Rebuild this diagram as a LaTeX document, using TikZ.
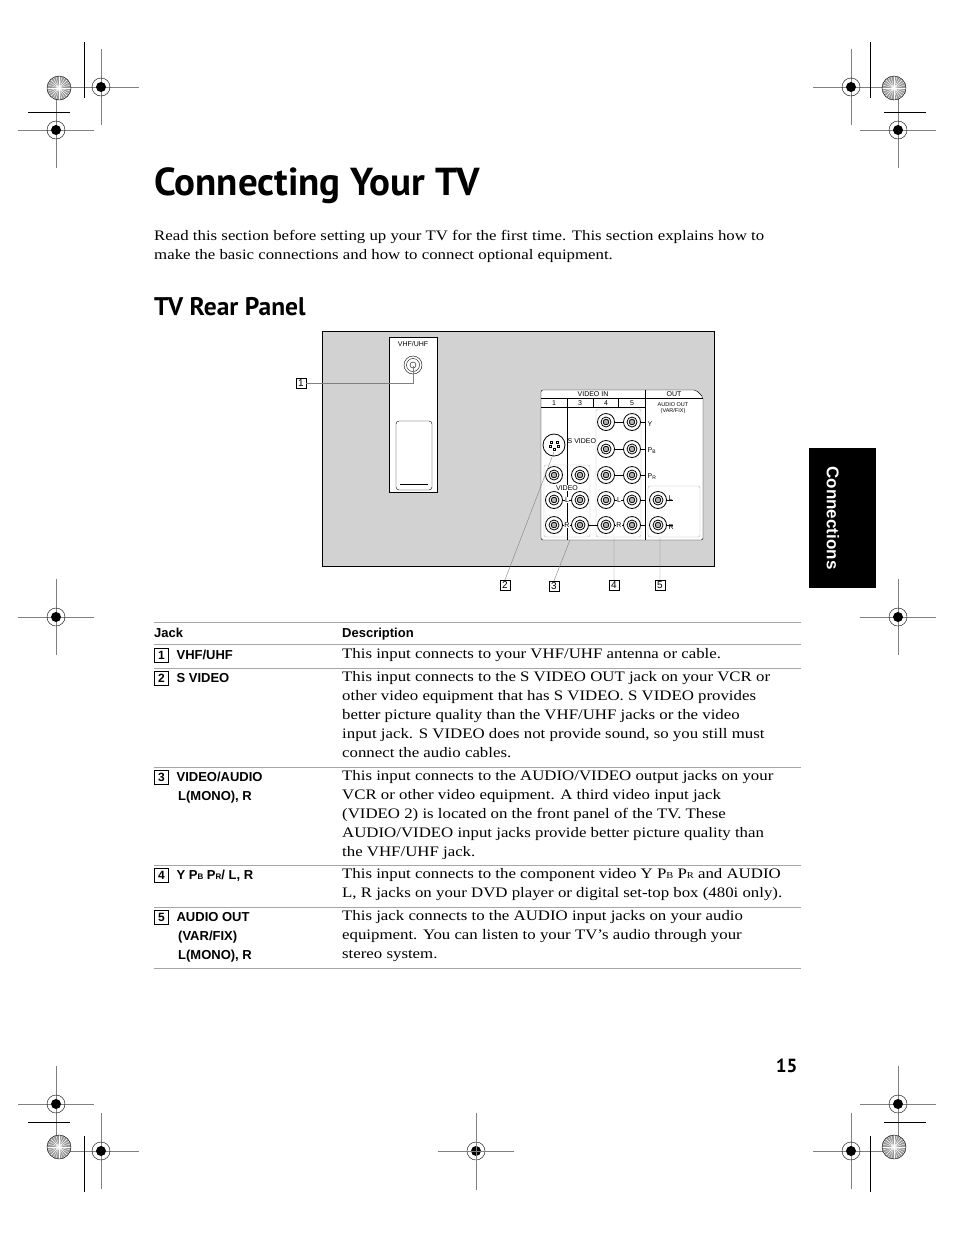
\documentclass[tikz,border=0pt]{standalone}
\usepackage{fontspec}
\setmainfont[FakeStretch=1.16]{Liberation Serif}
\setsansfont{Liberation Sans}
\newfontfamily\titlefont{PT Sans}
\usetikzlibrary{positioning,calc}
\tikzset{
  jack/.style={draw,circle,thick,minimum size=17pt,inner sep=0pt,fill=white,
    path picture={\draw (path picture bounding box.center) circle (5pt);
      \draw[fill=gray!60] (path picture bounding box.center) circle (2.8pt);}},
  callout/.style={draw,inner sep=1.2pt,minimum size=10pt,font=\sffamily\fontsize{10}{10}\selectfont},
  tiny/.style={font=\sffamily\fontsize{7}{7}\selectfont,inner sep=0.5pt},
  body/.style={anchor=north west,align=left,inner sep=0pt,font=\fontsize{14.5}{19}\selectfont},
  jackname/.style={anchor=north west,align=left,inner sep=0pt,font=\sffamily\bfseries\fontsize{13}{19}\selectfont},
  rule/.style={draw=gray!70,line width=0.6pt}
}
\newcommand{\regmark}[2]{%
  \draw[gray,thin] (#1-38,#2) -- (#1+38,#2) (#1,#2-38) -- (#1,#2+38);
  \draw (#1,#2) circle (9);
  \fill (#1,#2) circle (5);}
\newcommand{\starmark}[2]{%
  \fill[gray!80] (#1,#2) circle (12);
  \foreach \a in {0,15,...,345} \draw[white,thin] (#1,#2) -- ++(\a:12);
  \draw (#1,#2) circle (12);}
\newcommand{\num}[1]{\tikz[baseline=(n.base)]\node[callout,font=\sffamily\fontsize{12}{12}\selectfont,minimum size=14pt] (n) {#1};\hspace{8pt}}
\begin{document}
\begin{tikzpicture}[x=1pt,y=-1pt]
\useasboundingbox (0,0) rectangle (954,1235);
% crop marks
\regmark{101}{87}\regmark{56}{130}\regmark{851}{87}\regmark{898}{130}
\regmark{56}{617}\regmark{898}{617}\regmark{56}{1104}\regmark{898}{1104}
\regmark{101}{1151}\regmark{476}{1151}\regmark{851}{1151}
\starmark{59}{88}\starmark{894}{88}\starmark{59}{1147}\starmark{894}{1147}
\draw[thick] (84,42) -- (84,98) (28,112) -- (70,112);
\draw[thick] (870,42) -- (870,98) (884,112) -- (926,112);
\draw[thick] (84,1136) -- (84,1192) (28,1122) -- (70,1122);
\draw[thick] (870,1136) -- (870,1192) (884,1122) -- (926,1122);
\draw[gray,thin] (476,1113) -- (476,1190) (438,1151) -- (514,1151);
% headings
\node[anchor=base west,inner sep=0pt,font=\titlefont\bfseries\fontsize{39}{39}\selectfont] (title) at (154,195) {Connecting Your TV};
\node[body] (intro) at (154,230) {Read this section before setting up your TV for the first time. This section explains how to\\make the basic connections and how to connect optional equipment.};
\node[anchor=base west,inner sep=0pt,font=\titlefont\bfseries\fontsize{25.5}{26}\selectfont] (sub) at (154,315) {TV Rear Panel};
% side tab
\fill (809,448) rectangle (876,588);
\node[rotate=-90,white,font=\sffamily\bfseries\fontsize{17}{17}\selectfont] (tab) at (833,518) {Connections};
\node[anchor=base east,font=\titlefont\bfseries\fontsize{19}{19}\selectfont] (page) at (801,1072) {15};
% panel
\draw[fill=gray!35] (322,331) rectangle (714,566);
\draw[fill=white] (389,337) rectangle (437,492);
\node[tiny] (vhflbl) at (413,344) {VHF/UHF};
\draw[fill=white] (413,365) circle (9);
\draw (413,365) circle (6.5) (413,365) circle (3);
\coordinate (vhf) at (413,366);
\draw[rounded corners=3] (396,421) rectangle (432,490);
\draw (400,484) -- (428,484);
\node[callout] (c1) at (301,383) {1};
\draw[gray] (c1.east) -- (vhf |- c1.east) -- (vhf);
% jack module
\draw[fill=white,rounded corners=2] (541,540) -- (541,390) -- (696,390) -- (703,397) -- (703,540) -- cycle;
\draw (541,398) -- (703,398) (541,407) -- (645,407);
\draw (567,398) -- (567,540) (593,398) -- (593,407) (618,398) -- (618,407) (645,390) -- (645,540);
\node[tiny] (vin) at (593,394) {VIDEO IN};
\node[tiny] (vout) at (674,394) {OUT};
\node[tiny] at (554,403) {1};\node[tiny] at (580,403) {3};
\node[tiny] at (606,403) {4};\node[tiny] at (632,403) {5};
\node[tiny,align=center,font=\sffamily\fontsize{5.5}{6}\selectfont] (aout) at (673,408) {AUDIO OUT\\(VAR/FIX)};
\draw[gray!60,rounded corners=2] (544,465) rectangle (590,537) (596,409) rectangle (641,537) (648,486) rectangle (700,537);
\foreach \y/\r in {422/y,449/pb,475/pr,500/l,525/r}{
  \node[jack] (j4\r) at (606,\y) {};
  \node[jack] (j5\r) at (632,\y) {};
  \draw[thick] (j4\r) -- (j5\r) (j5\r.east) -- ++(5,0);}
\foreach \y/\r in {475/v,500/l,525/r}{
  \node[jack] (j1\r) at (554,\y) {};
  \node[jack] (j3\r) at (580,\y) {};}
\node[jack] (jol) at (658,500) {};
\node[jack] (jor) at (658,525) {};
\draw[thick] (j1l) -- (j3l) (j1r) -- (j3r) (j3r) -- (j4r) (jol.east) -- ++(6,0) (jor.east) -- ++(6,0);
\draw[thick,fill=white] (554,445) circle (11);
\foreach \dx/\dy in {-3/-3,3/-3,-4/1,4/1,0/4} \draw (554+\dx-1,445+\dy-1) rectangle ++(2,2);
\coordinate (sv) at (554,452);
\node[tiny,anchor=west] (svlbl) at (567,441) {S VIDEO};
\node[tiny,anchor=west] at (647,424) {Y};
\node[tiny,anchor=west] at (647,451) {P\textsubscript{B}};
\node[tiny,anchor=west] at (647,477) {P\textsubscript{R}};
\node[tiny,fill=white] (vidlbl) at (567,488) {VIDEO};
\node[tiny,fill=white] at (567,500) {L};\node[tiny,fill=white] at (567,525) {R};
\node[tiny,fill=white] at (619,500) {L};\node[tiny,fill=white] at (619,525) {R};
\node[tiny,anchor=west] at (668,498) {L};\node[tiny,anchor=west] at (668,527) {R};
% bottom callouts
\node[callout] (c2) at (505,585) {2};
\node[callout] (c3) at (554,586) {3};
\node[callout] (c4) at (614,585) {4};
\node[callout] (c5) at (660,585) {5};
\draw[gray] (c2.north) -- (sv) (c3.north) -- (570,540) (c4.north) -- (614,538) (c5.north) -- (660,538);
% table
\node[jackname,anchor=base west] (hjack) at (154,637) {Jack};
\node[jackname,anchor=base west] (hdesc) at (342,637) {Description};
\foreach \y in {622,644,668,767,865,907,968} \draw[rule] (154,\y) -- (801,\y);
\node[jackname] (n1) at (154,648) {\num{1}VHF/UHF};
\node[body] (d1) at (342,648) {This input connects to your VHF/UHF antenna or cable.};
\node[jackname] (n2) at (154,671) {\num{2}S VIDEO};
\node[body] (d2) at (342,671) {This input connects to the S VIDEO OUT jack on your VCR or\\other video equipment that has S VIDEO. S VIDEO provides\\better picture quality than the VHF/UHF jacks or the video\\input jack. S VIDEO does not provide sound, so you still must\\connect the audio cables.};
\node[jackname] (n3) at (154,770) {\num{3}VIDEO/AUDIO\\\hspace*{24pt}L(MONO), R};
\node[body] (d3) at (342,770) {This input connects to the AUDIO/VIDEO output jacks on your\\VCR or other video equipment. A third video input jack\\(VIDEO 2) is located on the front panel of the TV. These\\AUDIO/VIDEO input jacks provide better picture quality than\\the VHF/UHF jack.};
\node[jackname] (n4) at (154,868) {\num{4}Y P{\fontsize{8}{8}\selectfont B} P{\fontsize{8}{8}\selectfont R}/ L, R};
\node[body] (d4) at (342,868) {This input connects to the component video Y P{\fontsize{9}{9}\selectfont B} P{\fontsize{9}{9}\selectfont R} and AUDIO\\L, R jacks on your DVD player or digital set-top box (480i only).};
\node[jackname] (n5) at (154,910) {\num{5}AUDIO OUT\\\hspace*{24pt}(VAR/FIX)\\\hspace*{24pt}L(MONO), R};
\node[body] (d5) at (342,910) {This jack connects to the AUDIO input jacks on your audio\\equipment. You can listen to your TV's audio through your\\stereo system.};
\end{tikzpicture}
\end{document}
